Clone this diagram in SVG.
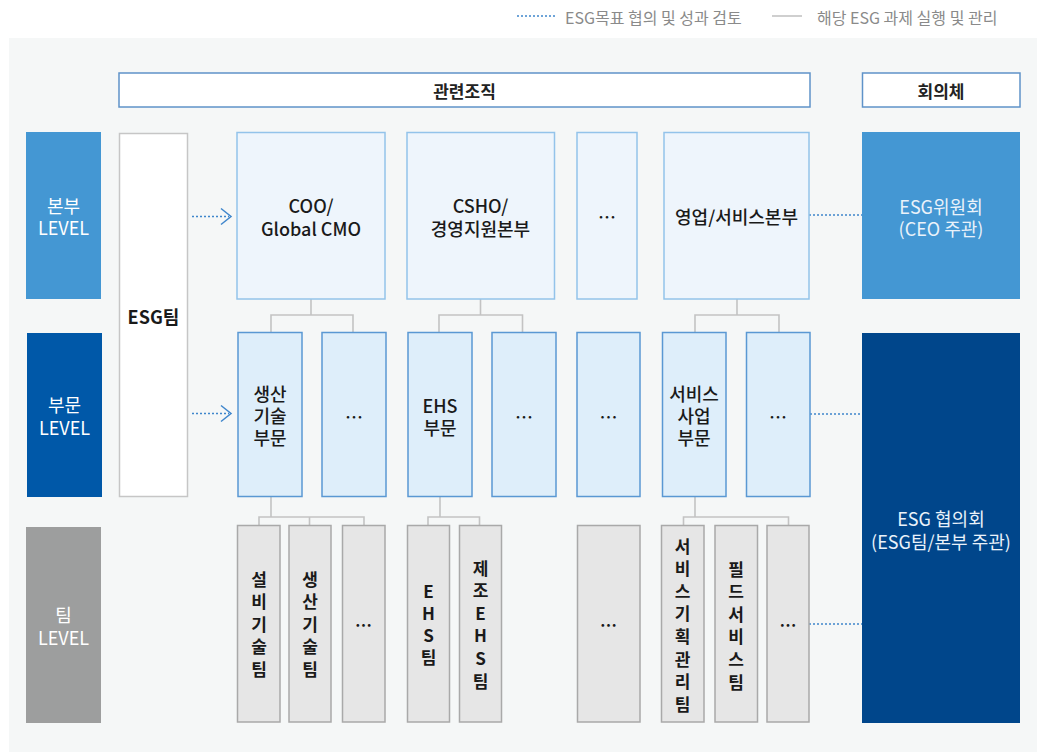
<svg xmlns="http://www.w3.org/2000/svg" width="1037" height="752" viewBox="0 0 1037 752">
<style>
text{font-family:"Noto Sans CJK KR","Noto Sans",sans-serif;text-anchor:middle;dominant-baseline:central}
.lg{font-size:16px;fill:#8a8a8a;text-anchor:start}
.hd{fill:#fff;stroke:#5f93c9;stroke-width:1.5}
.hdt{font-size:17px;font-weight:700;fill:#222}
.lv{font-size:18px;fill:#fff}
.esg{fill:#fff;stroke:#c6c6c6;stroke-width:1.5}
.b1{fill:#eef5fc;stroke:#93c3ea;stroke-width:1.5}
.b2{fill:#deeefa;stroke:#5a98d3;stroke-width:1.5}
.b3{fill:#e6e6e6;stroke:#a9a9a9;stroke-width:1.5}
.t{font-size:18px;font-weight:500;fill:#1a1a1a}
.tb{font-size:17px;font-weight:700;fill:#1a1a1a}
.te{font-size:18px;font-weight:700;fill:#1a1a1a}
.cw{font-size:18px;fill:#eaf2fa}
.gl{fill:none;stroke:#c3c3c3;stroke-width:1.6}
.dl{fill:none;stroke:#3f86cc;stroke-width:1.3;stroke-dasharray:2 2}
.ar{fill:none;stroke:#3f86cc;stroke-width:1.5}
</style>
<rect x="0" y="0" width="1037" height="752" fill="#fff"/>
<rect x="9" y="38" width="1028" height="714" fill="#f5f7f7"/>

<g id="legend">
<line x1="517" y1="16" x2="557" y2="16" class="dl" stroke="#6ea4d8"/>
<text x="565" y="17" class="lg">ESG목표 협의 및 성과 검토</text>
<line x1="772" y1="16" x2="802" y2="16" stroke="#b0b0b0" stroke-width="1.2"/>
<text x="817" y="17" class="lg">해당 ESG 과제 실행 및 관리</text>
</g>

<g id="header-org"><rect x="119" y="73" width="691" height="34" class="hd"/><text x="464.5" y="90" class="hdt">관련조직</text></g>
<g id="header-meeting"><rect x="862.5" y="73" width="157.5" height="34" class="hd"/><text x="941" y="90" class="hdt">회의체</text></g>

<g id="level-hq"><rect x="26" y="132" width="75" height="167" fill="#4497d3"/><text x="63.5" y="204.5" class="lv">본부</text><text x="63.5" y="227" class="lv">LEVEL</text></g>
<g id="level-div"><rect x="27" y="333" width="75" height="164" fill="#0058a8"/><text x="64.5" y="404" class="lv">부문</text><text x="64.5" y="426.5" class="lv">LEVEL</text></g>
<g id="level-team"><rect x="26" y="527" width="75" height="196" fill="#9d9e9e"/><text x="63.5" y="614" class="lv">팀</text><text x="63.5" y="636.5" class="lv">LEVEL</text></g>

<g id="esg-team"><rect x="119.5" y="133.5" width="68" height="363" class="esg"/><text x="153.5" y="316" class="te">ESG팀</text></g>

<g id="connectors">
<path class="gl" d="M311,299 V315 M271,332 V315 H353 V332"/>
<path class="gl" d="M480.5,299 V315 M439,332 V315 H522.5 V332"/>
<path class="gl" d="M737,299 V315 M695,332 V315 H779 V332"/>
<path class="gl" d="M271,496 V517 M259,525 V517 H364 V525 M309.5,517 V525"/>
<path class="gl" d="M440,496 V517 M428,525 V517 H479.5 V525"/>
<path class="gl" d="M695,496 V517 M683.5,525 V517 H788.5 V525"/>
<line class="dl" x1="192" y1="216.5" x2="229" y2="216.5"/>
<path class="ar" d="M221,208.5 L231,216.5 L221,224.5"/>
<line class="dl" x1="192" y1="413.5" x2="229" y2="413.5"/>
<path class="ar" d="M221,405.5 L231,413.5 L221,421.5"/>
<line class="dl" x1="809" y1="215" x2="862" y2="215"/>
<line class="dl" x1="810" y1="414" x2="862" y2="414"/>
<line class="dl" x1="809" y1="624" x2="862" y2="624"/>
</g>

<g id="n-coo"><rect x="237" y="132.5" width="148" height="166.5" class="b1"/><text x="311" y="205" class="t">COO/</text><text x="311" y="227.5" class="t">Global CMO</text></g>
<g id="n-csho"><rect x="407" y="132.5" width="147.5" height="166.5" class="b1"/><text x="480.5" y="205" class="t">CSHO/</text><text x="480.5" y="227.5" class="t">경영지원본부</text></g>
<g id="n-hq-etc"><rect x="577" y="132.5" width="60" height="166.5" class="b1"/><text x="607" y="216" class="t">…</text></g>
<g id="n-sales"><rect x="664" y="132.5" width="145" height="166.5" class="b1"/><text x="736.5" y="216" class="t">영업/서비스본부</text></g>

<g id="n-prod-div"><rect x="238" y="332.5" width="64" height="164" class="b2"/><text x="270" y="393" class="t">생산</text><text x="270" y="415" class="t">기술</text><text x="270" y="437" class="t">부문</text></g>
<g id="n-div-etc1"><rect x="322" y="332.5" width="64" height="164" class="b2"/><text x="354" y="416" class="t">…</text></g>
<g id="n-ehs-div"><rect x="408" y="332.5" width="64" height="164" class="b2"/><text x="440" y="405" class="t">EHS</text><text x="440" y="427" class="t">부문</text></g>
<g id="n-div-etc2"><rect x="492" y="332.5" width="64" height="164" class="b2"/><text x="524" y="416" class="t">…</text></g>
<g id="n-div-etc3"><rect x="577" y="332.5" width="63" height="164" class="b2"/><text x="608.5" y="416" class="t">…</text></g>
<g id="n-svc-div"><rect x="662.5" y="332.5" width="63.5" height="164" class="b2"/><text x="694" y="393" class="t">서비스</text><text x="694" y="415" class="t">사업</text><text x="694" y="437" class="t">부문</text></g>
<g id="n-div-etc4"><rect x="746.5" y="332.5" width="63.5" height="164" class="b2"/><text x="778" y="416" class="t">…</text></g>

<g id="n-facility"><rect x="237.5" y="525.5" width="42.5" height="196.5" class="b3"/>
<text x="259" y="578" class="tb">설</text><text x="259" y="600.6" class="tb">비</text><text x="259" y="623.2" class="tb">기</text><text x="259" y="645.8" class="tb">술</text><text x="259" y="668.4" class="tb">팀</text></g>
<g id="n-prodtech"><rect x="289" y="525.5" width="42" height="196.5" class="b3"/>
<text x="310" y="578" class="tb">생</text><text x="310" y="600.6" class="tb">산</text><text x="310" y="623.2" class="tb">기</text><text x="310" y="645.8" class="tb">술</text><text x="310" y="668.4" class="tb">팀</text></g>
<g id="n-team-etc1"><rect x="342.5" y="525.5" width="42.5" height="196.5" class="b3"/><text x="363.5" y="624" class="tb">…</text></g>
<g id="n-ehs-team"><rect x="407.5" y="525.5" width="42" height="196.5" class="b3"/>
<text x="428.5" y="590" class="tb">E</text><text x="428.5" y="612.3" class="tb">H</text><text x="428.5" y="634.6" class="tb">S</text><text x="428.5" y="656.9" class="tb">팀</text></g>
<g id="n-mfg-ehs"><rect x="459.5" y="525.5" width="42" height="196.5" class="b3"/>
<text x="480.5" y="567" class="tb">제</text><text x="480.5" y="589.6" class="tb">조</text><text x="480.5" y="612.2" class="tb">E</text><text x="480.5" y="634.8" class="tb">H</text><text x="480.5" y="657.4" class="tb">S</text><text x="480.5" y="680" class="tb">팀</text></g>
<g id="n-team-etc2"><rect x="577.5" y="525.5" width="62.5" height="196.5" class="b3"/><text x="608.5" y="624" class="tb">…</text></g>
<g id="n-svc-plan"><rect x="661.5" y="525.5" width="42.5" height="196.5" class="b3"/>
<text x="682.5" y="545" class="tb">서</text><text x="682.5" y="567.6" class="tb">비</text><text x="682.5" y="590.2" class="tb">스</text><text x="682.5" y="612.8" class="tb">기</text><text x="682.5" y="635.4" class="tb">획</text><text x="682.5" y="658" class="tb">관</text><text x="682.5" y="680.6" class="tb">리</text><text x="682.5" y="703.2" class="tb">팀</text></g>
<g id="n-field"><rect x="715" y="525.5" width="42.5" height="196.5" class="b3"/>
<text x="736" y="568" class="tb">필</text><text x="736" y="590.6" class="tb">드</text><text x="736" y="613.2" class="tb">서</text><text x="736" y="635.8" class="tb">비</text><text x="736" y="658.4" class="tb">스</text><text x="736" y="681" class="tb">팀</text></g>
<g id="n-team-etc3"><rect x="767" y="525.5" width="42" height="196.5" class="b3"/><text x="788" y="624" class="tb">…</text></g>

<g id="n-committee"><rect x="862" y="132" width="158" height="167" fill="#4497d3"/><text x="941" y="205.5" class="cw">ESG위원회</text><text x="941" y="228" class="cw">(CEO 주관)</text></g>
<g id="n-council"><rect x="862" y="333" width="158" height="390" fill="#00468b"/><text x="941" y="518" class="cw">ESG 협의회</text><text x="941" y="540.5" class="cw">(ESG팀/본부 주관)</text></g>
</svg>
